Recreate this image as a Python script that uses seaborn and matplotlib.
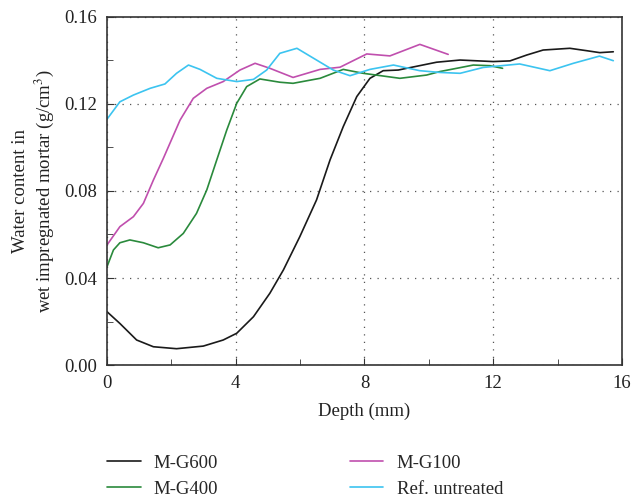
import matplotlib
matplotlib.use("Agg")
import matplotlib.pyplot as plt
import seaborn as sns
import pandas as pd
from matplotlib.ticker import MultipleLocator

sns.set_style("ticks")
plt.rcParams['font.family'] = ['Liberation Serif', 'DejaVu Serif']
plt.rcParams['mathtext.fontset'] = 'stix'

# M-G600 (black)
g600_x = [0.0, 0.4, 0.92, 1.44, 2.16, 2.99, 3.61, 4.03, 4.55, 5.06, 5.48, 5.99, 6.51, 6.93, 7.34, 7.76, 8.17, 8.58, 9.05, 9.41, 10.24, 10.97, 12.0, 12.52, 13.04, 13.55, 14.38, 14.9, 15.31, 15.73]
g600_y = [0.0245, 0.0191, 0.0115, 0.0084, 0.0075, 0.0087, 0.0115, 0.0146, 0.0222, 0.033, 0.0437, 0.059, 0.0759, 0.0943, 0.1096, 0.1234, 0.1318, 0.1353, 0.1356, 0.1367, 0.1392, 0.1402, 0.1395, 0.1398, 0.1425, 0.1448, 0.1456, 0.1445, 0.1436, 0.1440]

# M-G400 (green)
g400_x = [0.0, 0.2, 0.4, 0.71, 1.13, 1.59, 1.96, 2.37, 2.78, 3.1, 3.41, 3.72, 4.03, 4.34, 4.75, 5.37, 5.78, 6.62, 7.34, 7.96, 9.1, 9.93, 10.34, 10.97, 11.38, 11.9, 12.29]
g400_y = [0.0452, 0.0529, 0.0562, 0.0575, 0.0562, 0.0539, 0.0552, 0.0605, 0.0697, 0.0805, 0.0943, 0.108, 0.1203, 0.1280, 0.1315, 0.1300, 0.1295, 0.1318, 0.1359, 0.1341, 0.1318, 0.1333, 0.1349, 0.1367, 0.1379, 0.1376, 0.1364]

# M-G100 (magenta)
g100_x = [0.0, 0.4, 0.82, 1.13, 1.44, 1.75, 2.27, 2.68, 3.1, 3.61, 4.13, 4.6, 5.06, 5.78, 6.62, 7.24, 8.07, 8.79, 9.72, 10.6]
g100_y = [0.0552, 0.0636, 0.0682, 0.0743, 0.085, 0.095, 0.1126, 0.1226, 0.1272, 0.1303, 0.1356, 0.1387, 0.1364, 0.1322, 0.1359, 0.1369, 0.1430, 0.1421, 0.1474, 0.1428]

# Ref. untreated (cyan)
ref_x = [0.0, 0.4, 0.82, 1.34, 1.8, 2.16, 2.53, 2.89, 3.41, 4.03, 4.55, 4.96, 5.37, 5.9, 6.51, 7.03, 7.55, 8.17, 8.9, 9.72, 10.34, 10.97, 11.69, 12.82, 13.76, 14.49, 15.3, 15.73]
ref_y = [0.113, 0.121, 0.1241, 0.1272, 0.1292, 0.1341, 0.1379, 0.1359, 0.1318, 0.1303, 0.1313, 0.1356, 0.1433, 0.1456, 0.1402, 0.1356, 0.1330, 0.1359, 0.1379, 0.1353, 0.1345, 0.1341, 0.1368, 0.1384, 0.1353, 0.1387, 0.1420, 0.1399]

labels = ["M-G600", "M-G400", "M-G100", "Ref. untreated"]
colors = ["#1a1a1a", "#2a8a3c", "#c04fae", "#3cc4f0"]

frames = []
for lab, xs, ys in zip(labels, [g600_x, g400_x, g100_x, ref_x], [g600_y, g400_y, g100_y, ref_y]):
    frames.append(pd.DataFrame({"Depth": xs, "Water": ys, "Series": lab}))
df = pd.concat(frames, ignore_index=True)

fig = plt.figure(figsize=(6.31, 4.99), dpi=100)
ax = fig.add_axes([0.1696, 0.2685, 0.8161, 0.6975])

sns.lineplot(data=df, x="Depth", y="Water", hue="Series", hue_order=labels,
             palette=colors, sort=False, estimator=None, linewidth=1.2, ax=ax, legend=True)
for ln in ax.lines:
    ln.set_solid_joinstyle("round")

ax.set_xlim(0, 16)
ax.set_ylim(0, 0.16)
ax.xaxis.set_major_locator(MultipleLocator(4))
ax.xaxis.set_minor_locator(MultipleLocator(2))
ax.yaxis.set_minor_locator(MultipleLocator(0.02))
ax.set_xticks([0, 4, 8, 12, 16])
ax.set_xticklabels(["0", "4", "8", "12", "16"])
ax.set_yticks([0, 0.04, 0.08, 0.12, 0.16])
ax.set_yticklabels(["0.00", "0.04", "0.08", "0.12", "0.16"])
ax.tick_params(which="both", direction="in", labelsize=13.5, colors="#333333", labelcolor="#222222")
ax.tick_params(which="major", length=5, pad=7)
ax.tick_params(which="minor", length=4)
ax.grid(True, which="major", linestyle=(0, (1, 5)), color="#555555", linewidth=0.9)
for s in ax.spines.values():
    s.set_visible(True)
    s.set_color("#333333")
    s.set_linewidth(1.2)

ax.set_xlabel("Depth (mm)", fontsize=13.5, color="#222222", labelpad=8)
ax.set_ylabel("Water content in\nwet impregnated mortar (g/cm$^3$)", fontsize=13.5, color="#222222", labelpad=6)

handles, labs = ax.get_legend_handles_labels()
ax.legend(handles, labs, loc="upper left", bbox_to_anchor=(0.0, -0.258), ncol=2, frameon=False,
          fontsize=13.5, columnspacing=7.0, handlelength=1.8, labelspacing=0.45, borderaxespad=0,
          borderpad=0, handletextpad=0.7)

fig.savefig("out.png", dpi=100)
